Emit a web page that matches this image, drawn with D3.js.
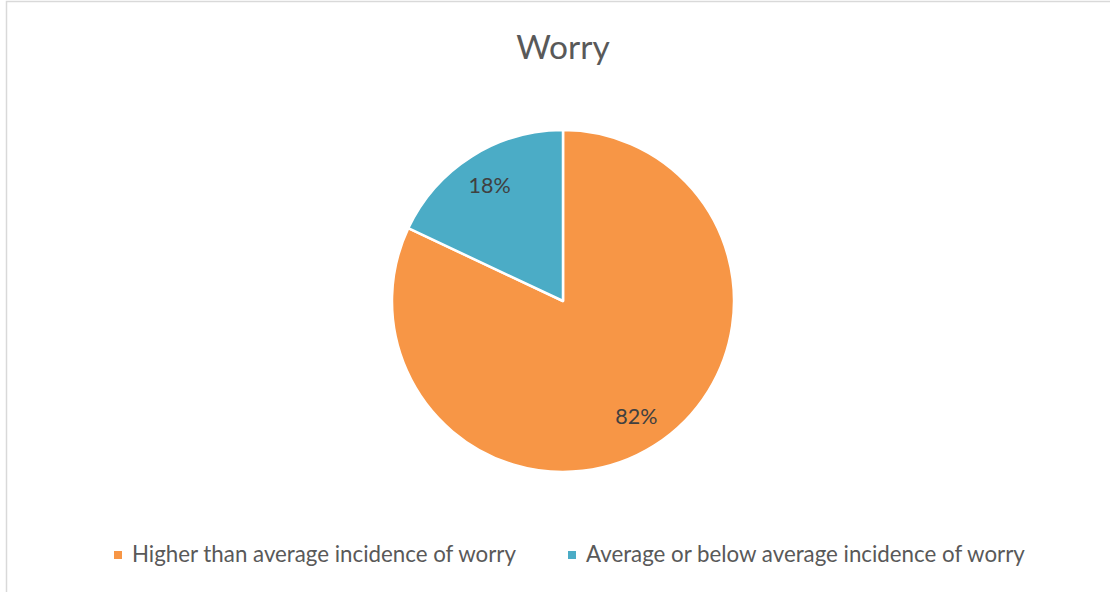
<!DOCTYPE html>
<html>
<head>
<meta charset="utf-8">
<script src="https://cdn.jsdelivr.net/npm/d3@7"></script>
<style>
  body { margin: 0; background: #fff; }
  svg { display: block; font-family: Lato, "Open Sans", sans-serif; }
</style>
</head>
<body>
<div id="chart"></div>
<script>
// data
var categories = ["Higher than average incidence of worry", "Average or below average incidence of worry"];
var values = [82, 18];
var colors = ["#F79646", "#4BACC6"];
var title = "Worry";

var width = 1110, height = 592;
var cx = 563, cy = 301, radius = 171;

var svg = d3.select("#chart").append("svg")
    .attr("width", width)
    .attr("height", height);

// chart area border (runs off the right and bottom edges)
svg.append("rect")
    .attr("x", 6.5).attr("y", 1.5)
    .attr("width", 1200).attr("height", 700)
    .attr("fill", "#fff")
    .attr("stroke", "#d9d9d9")
    .attr("stroke-width", 1.5);

svg.append("text")
    .attr("x", cx).attr("y", 59)
    .attr("text-anchor", "middle")
    .attr("font-size", "33.5px")
    .attr("fill", "#595959")
    .text(title);

var data = categories.map(function(c, i) { return { name: c, value: values[i], color: colors[i] }; });

var pie = d3.pie()
    .sort(null)
    .value(function(d) { return d.value; });

var arc = d3.arc().innerRadius(0).outerRadius(radius);
var labelArc = d3.arc().innerRadius(radius * 0.8).outerRadius(radius * 0.8);

var g = svg.append("g")
    .attr("transform", "translate(" + cx + "," + cy + ")");

var slices = g.selectAll(".slice")
    .data(pie(data))
    .enter().append("g")
    .attr("class", "slice");

slices.append("path")
    .attr("d", arc)
    .attr("fill", function(d) { return d.data.color; })
    .attr("stroke", "#fff")
    .attr("stroke-width", 2.5)
    .attr("stroke-linejoin", "round");

slices.append("text")
    .attr("transform", function(d) { return "translate(" + labelArc.centroid(d) + ")"; })
    .attr("text-anchor", "middle")
    .attr("dy", "0.35em")
    .attr("font-size", "21.5px")
    .attr("fill", "#404040")
    .text(function(d) { return d.data.value + "%"; });

// legend
var legendX = [114, 568];
var legend = svg.selectAll(".legend")
    .data(data)
    .enter().append("g")
    .attr("class", "legend")
    .attr("transform", function(d, i) { return "translate(" + legendX[i] + ",551)"; });

legend.append("rect")
    .attr("width", 8).attr("height", 8)
    .attr("fill", function(d) { return d.color; });

legend.append("text")
    .attr("x", 18).attr("y", 10.5)
    .attr("font-size", "22.3px")
    .attr("fill", "#595959")
    .text(function(d) { return d.name; });
</script>
</body>
</html>
